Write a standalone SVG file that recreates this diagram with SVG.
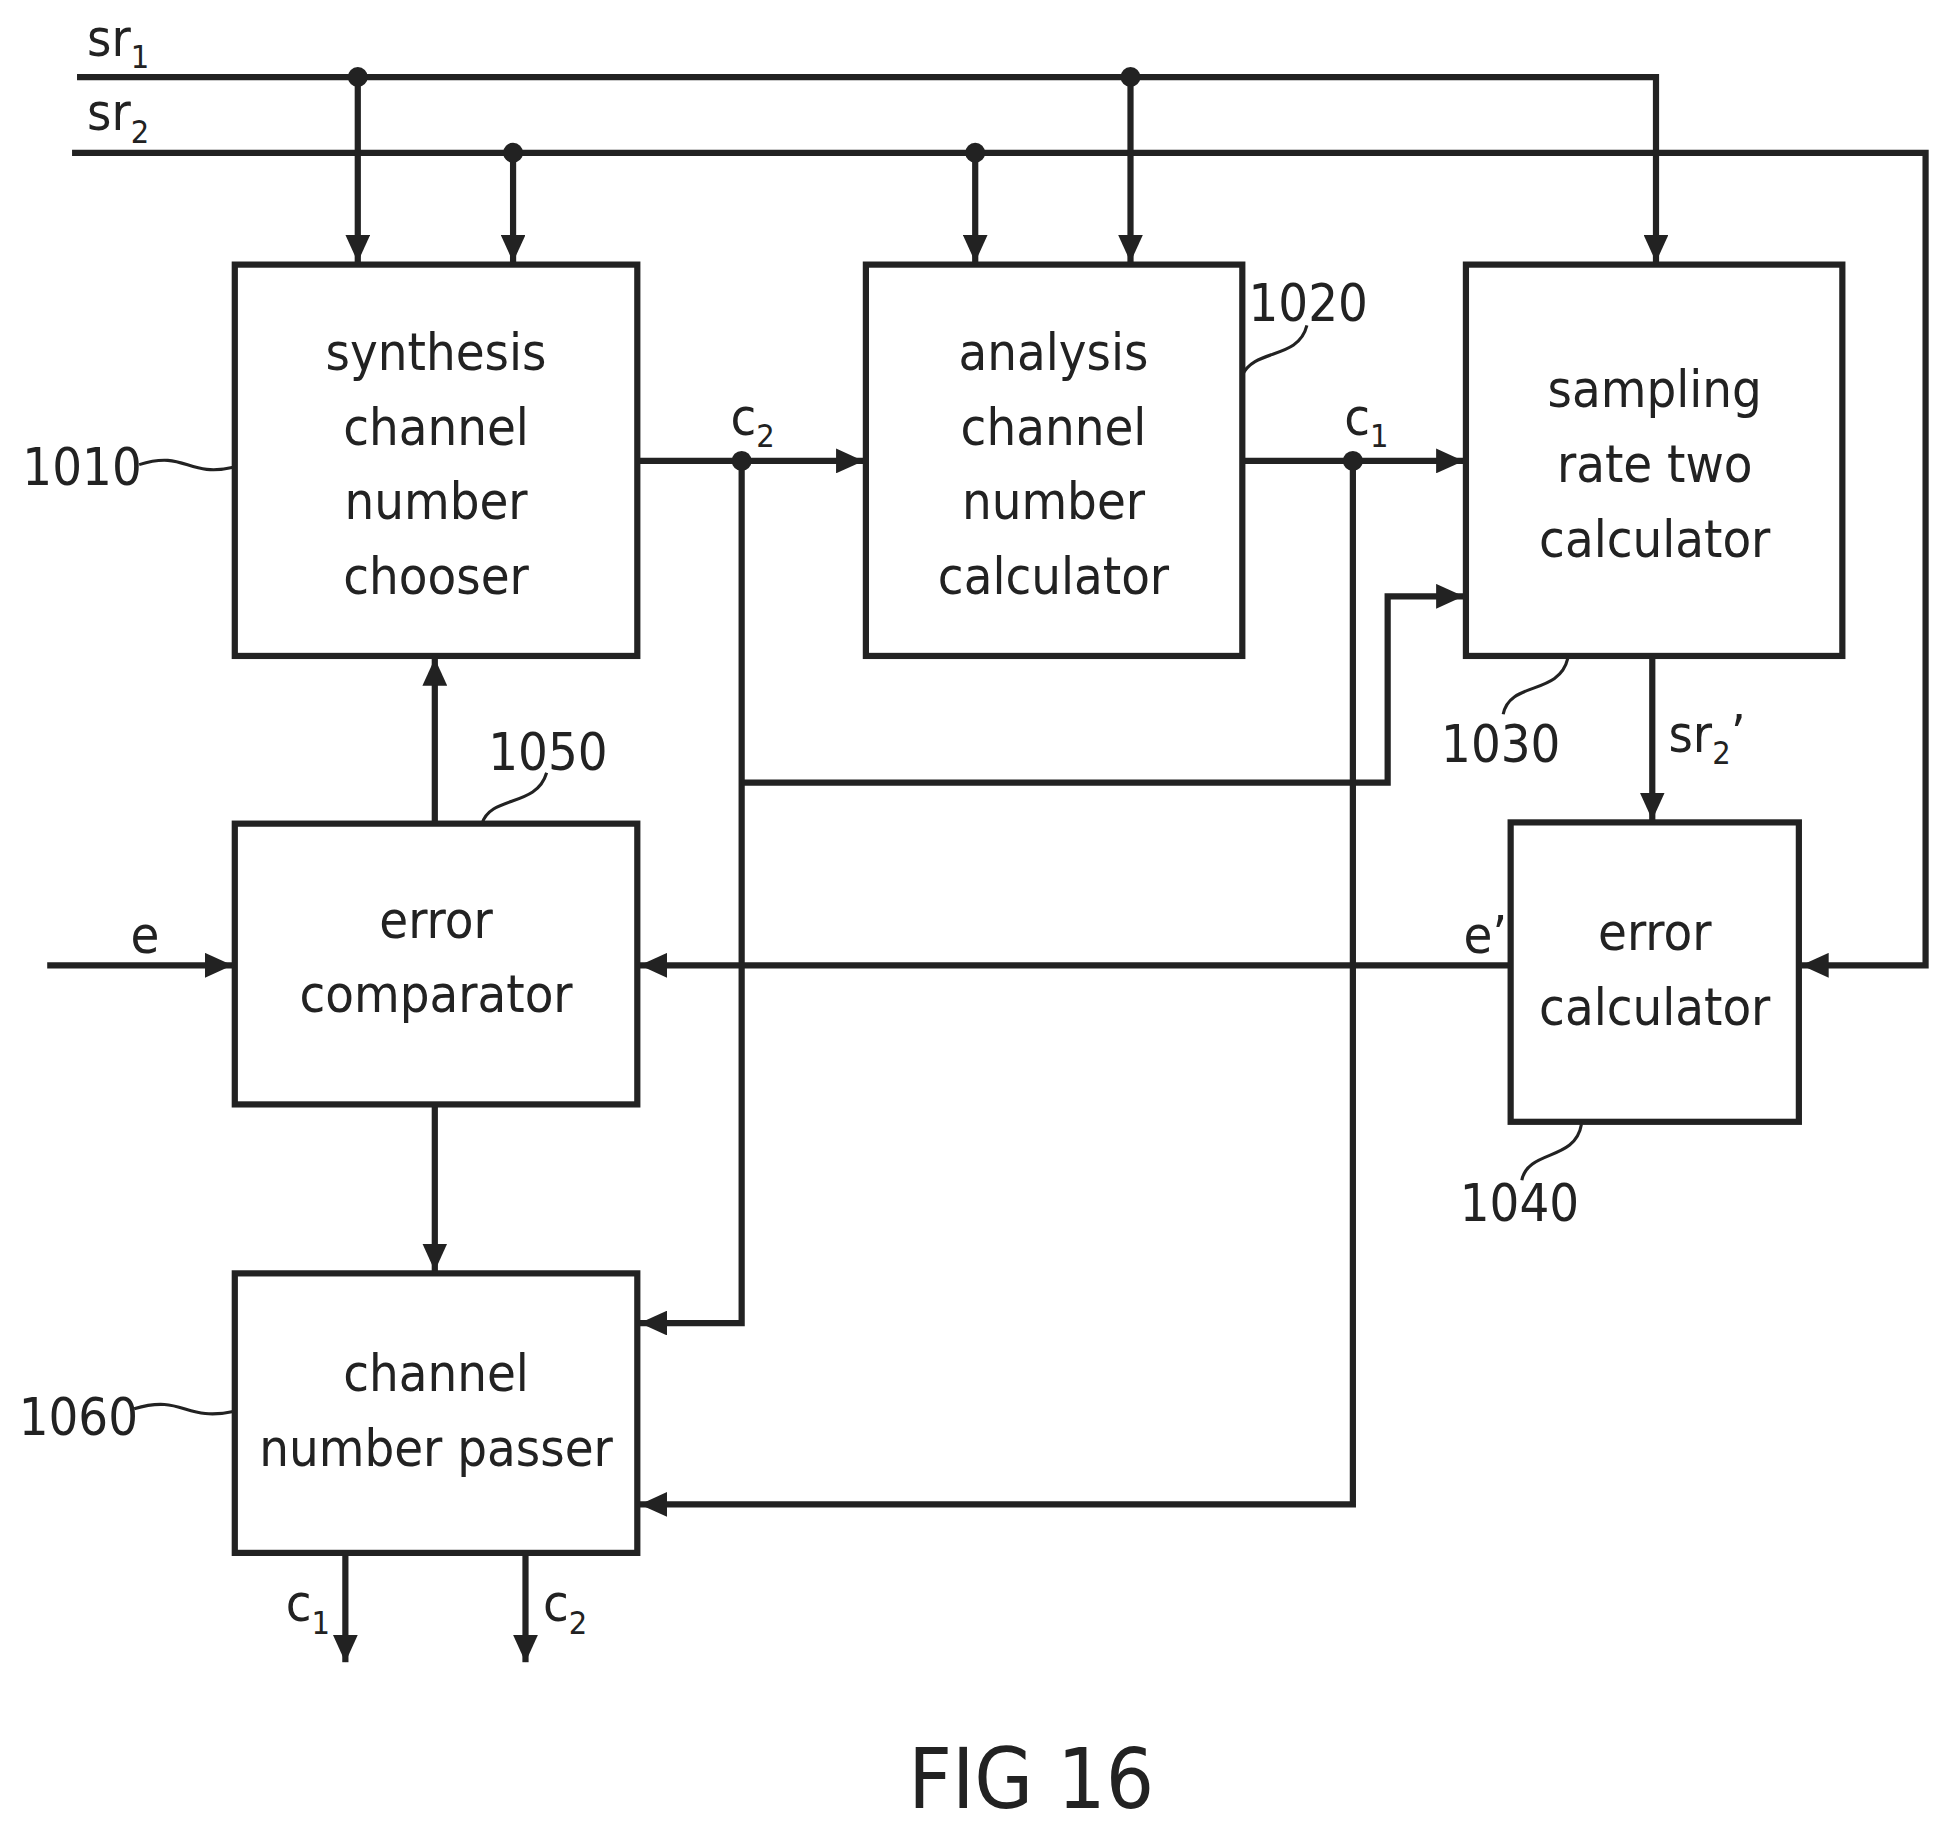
<svg xmlns="http://www.w3.org/2000/svg" width="1938" height="1833" viewBox="0 0 1938 1833">
<defs>
<style>
.b{fill:#fff;stroke:#222;stroke-width:5}
.w{fill:none;stroke:#222;stroke-width:5}
.l{fill:none;stroke:#222;stroke-width:2.5}
text{font-family:"DejaVu Sans Condensed","DejaVu Sans","Liberation Sans",sans-serif;font-stretch:condensed;fill:#222}
.t{font-size:42px;text-anchor:middle}
.n{font-size:42px}
.s{font-size:26px}
</style>
<marker id="a" markerUnits="userSpaceOnUse" markerWidth="24" markerHeight="20" refX="22" refY="10" orient="auto"><path d="M0,0 L22,10 L0,20 Z" fill="#222"/></marker>
</defs>
<rect width="1938" height="1833" fill="#fff"/>
<g transform="scale(1.24231)">
<g id="connectors">
<path class="w" d="M62,62 H1333 V211" marker-end="url(#a)"/>
<path class="w" d="M58,123 H1550 V777 H1450" marker-end="url(#a)"/>
<path class="w" d="M288,62 V211" marker-end="url(#a)"/>
<path class="w" d="M413,123 V211" marker-end="url(#a)"/>
<path class="w" d="M785,123 V211" marker-end="url(#a)"/>
<path class="w" d="M910,62 V211" marker-end="url(#a)"/>
<path class="w" d="M513,371 H695" marker-end="url(#a)"/>
<path class="w" d="M597,371 V1065 H515" marker-end="url(#a)"/>
<path class="w" d="M597,630 H1117 V480 H1178" marker-end="url(#a)"/>
<path class="w" d="M1000,371 H1178" marker-end="url(#a)"/>
<path class="w" d="M1089,371 V1211 H515" marker-end="url(#a)"/>
<path class="w" d="M1330,528 V660" marker-end="url(#a)"/>
<path class="w" d="M1216,777 H515" marker-end="url(#a)"/>
<path class="w" d="M38,777 H187" marker-end="url(#a)"/>
<path class="w" d="M350,663 V530" marker-end="url(#a)"/>
<path class="w" d="M350,889 V1023" marker-end="url(#a)"/>
<path class="w" d="M278,1250 V1338" marker-end="url(#a)"/>
<path class="w" d="M423,1250 V1338" marker-end="url(#a)"/>
<g fill="#222"><circle cx="288" cy="62" r="8"/><circle cx="910" cy="62" r="8"/><circle cx="413" cy="123" r="8"/><circle cx="785" cy="123" r="8"/><circle cx="597" cy="371" r="8"/><circle cx="1089" cy="371" r="8"/></g>
<path class="l" d="M112,374 C150,362 150,385 189,376"/>
<path class="l" d="M1052,262 C1045,290 1010,280 1000,302"/>
<path class="l" d="M1262,530 C1255,560 1215,548 1210,575"/>
<path class="l" d="M440,622 C432,650 395,640 388,663"/>
<path class="l" d="M1273,905 C1268,935 1230,925 1225,950"/>
<path class="l" d="M108,1134 C148,1122 148,1145 189,1136"/>
</g>
<g id="n1010"><rect class="b" x="189" y="213" width="324" height="315"/><text class="t" x="351" y="298">synthesis</text><text class="t" x="351" y="358">channel</text><text class="t" x="351" y="418">number</text><text class="t" x="351" y="478">chooser</text><text class="n" x="18" y="390">1010</text></g>
<g id="n1020"><rect class="b" x="697" y="213" width="303" height="315"/><text class="t" x="848" y="298">analysis</text><text class="t" x="848" y="358">channel</text><text class="t" x="848" y="418">number</text><text class="t" x="848" y="478">calculator</text><text class="n" x="1005" y="258">1020</text></g>
<g id="n1030"><rect class="b" x="1180" y="213" width="303" height="315"/><text class="t" x="1332" y="328">sampling</text><text class="t" x="1332" y="388">rate two</text><text class="t" x="1332" y="448">calculator</text><text class="n" x="1160" y="613">1030</text></g>
<g id="n1050"><rect class="b" x="189" y="663" width="324" height="226"/><text class="t" x="351" y="755">error</text><text class="t" x="351" y="815">comparator</text><text class="n" x="393" y="620">1050</text></g>
<g id="n1040"><rect class="b" x="1216" y="662" width="232" height="241"/><text class="t" x="1332" y="765">error</text><text class="t" x="1332" y="825">calculator</text><text class="n" x="1175" y="983">1040</text></g>
<g id="n1060"><rect class="b" x="189" y="1025" width="324" height="225"/><text class="t" x="351" y="1120">channel</text><text class="t" x="351" y="1180">number passer</text><text class="n" x="15" y="1155">1060</text></g>
<g id="labels">
<text class="n" x="70" y="45">sr<tspan class="s" dy="10">1</tspan></text>
<text class="n" x="70" y="105">sr<tspan class="s" dy="10">2</tspan></text>
<text class="n" x="588" y="350">c<tspan class="s" dy="10">2</tspan></text>
<text class="n" x="1082" y="350">c<tspan class="s" dy="10">1</tspan></text>
<text class="n" x="1343" y="605">sr<tspan class="s" dy="10">2</tspan><tspan dy="-10">’</tspan></text>
<text class="n" x="105" y="767">e</text>
<text class="n" x="1178" y="767">e’</text>
<text class="n" x="230" y="1305">c<tspan class="s" dy="10">1</tspan></text>
<text class="n" x="437" y="1305">c<tspan class="s" dy="10">2</tspan></text>
<text x="830" y="1455" style="font-size:68px;text-anchor:middle">FIG 16</text>
</g>
</g>
</svg>
